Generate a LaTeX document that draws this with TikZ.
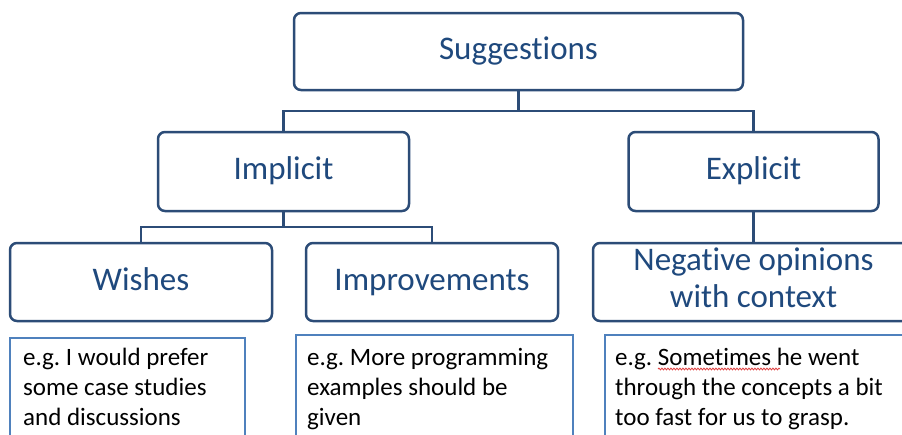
\documentclass[tikz,border=0pt]{standalone}
\usepackage{fontspec}
\setmainfont{Carlito}[Ligatures=NoCommon]
\usetikzlibrary{decorations.pathmorphing}
\definecolor{navy}{HTML}{2C4C77}
\definecolor{txtblue}{HTML}{1F497D}
\definecolor{exblue}{HTML}{4F81BD}
\definecolor{spellred}{HTML}{E04040}
\frenchspacing
\tikzset{
 mainbox/.style={draw=navy, line width=2.5pt, rounded corners=7pt, fill=white, text=txtblue,
   font=\fontsize{33}{37}\selectfont, align=center, inner sep=0pt, outer sep=0pt,
   text height=23pt, text depth=7pt},
 link/.style={draw=navy, line width=2.5pt},
 exbox/.style={draw=exblue, line width=2pt, fill=white, anchor=north west, outer sep=0pt, inner sep=0pt},
 extext/.style={font=\fontsize{25}{30}\selectfont, align=left, inner sep=0pt, anchor=base west, text=black},
 spell/.style={draw=spellred, line width=0.8pt, decorate, decoration={snake, amplitude=0.9pt, segment length=3pt}},
}
\begin{document}
\begin{tikzpicture}[x=1pt,y=-1pt]
\useasboundingbox (0,0) rectangle (902,434);
\clip (0,0) rectangle (902,434);
\fill[white] (0,0) rectangle (902,434);

\node[mainbox, minimum width=449pt, minimum height=77pt] (sug) at (518.5,51.5) {Suggestions};
\node[mainbox, minimum width=251pt, minimum height=79pt] (imp) at (283.5,171.5) {Implicit};
\node[mainbox, minimum width=250pt, minimum height=79pt] (exp) at (753.5,171.5) {Explicit};
\node[mainbox, minimum width=262pt, minimum height=78pt] (wish) at (141,282) {Wishes};
\node[mainbox, minimum width=252pt, minimum height=78pt] (impr) at (432,282) {Improvements};
\node[mainbox, minimum width=321pt, minimum height=78pt, text height=57pt, text depth=7pt] (neg) at (753.5,282) {Negative opinions\\with context};

\draw[link] (sug.south) -- ++(0,21) coordinate (sj) -| (imp.north);
\draw[link] (sj) -| (exp.north);
\draw[link] (imp.south) -- ++(0,16) coordinate (ij) -| (wish.north);
\draw[link] (ij) -| (impr.north);
\draw[link] (exp.south) -- (neg.north);

\node[exbox, minimum width=235pt, minimum height=130pt] (b1) at (10,338) {};
\node[exbox, minimum width=277pt, minimum height=130pt] (b2) at (296,335) {};
\node[exbox, minimum width=320pt, minimum height=130pt] (b3) at (605,335) {};

\node[extext] (t1) at (23,425) {e.g. I would prefer\\some case studies\\and discussions};
\node[extext] (t2) at (307,425) {e.g. More programming\\examples should be\\given};
\node[extext] (t3) at (615,425) {e.g. Sometimes he went\\through the concepts a bit\\too fast for us to grasp.};
\coordinate (s1) at (658,369);
\coordinate (s2) at (780,369);
\draw[spell] (s1) -- (s2);
\end{tikzpicture}
\end{document}
